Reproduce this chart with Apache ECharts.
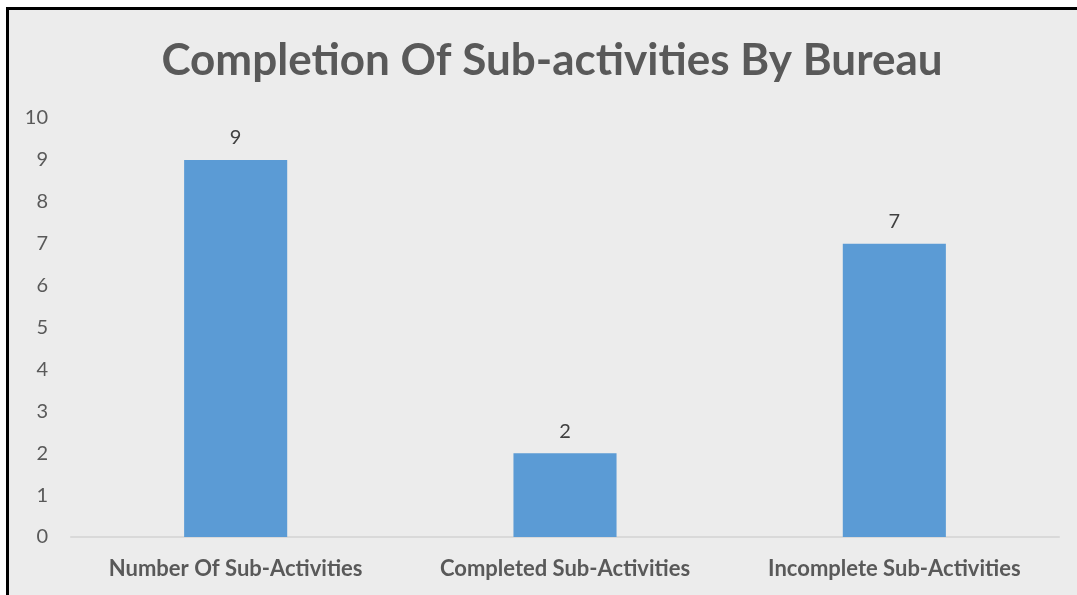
<!DOCTYPE html>
<html>
<head>
<meta charset="utf-8">
<script src="https://cdn.jsdelivr.net/npm/echarts@6/dist/echarts.min.js"></script>
<style>
  html, body { margin: 0; padding: 0; background: #fff; width: 1077px; height: 595px; overflow: hidden; }
  #frame { position: absolute; left: 6px; top: 7px; width: 1100px; height: 620px; background: #ececec;
           border-left: 3px solid #000; border-top: 3px solid #000; }
  #chart { position: absolute; left: 0; top: 0; width: 1077px; height: 595px; }
</style>
</head>
<body>
<div id="frame"></div>
<div id="chart"></div>
<script>
  const categories = ['Number Of Sub-Activities', 'Completed Sub-Activities', 'Incomplete Sub-Activities'];
  const counts = [9, 2, 7];
  const titleText = 'Completion Of Sub-activities By Bureau';

  const fontFamily = 'Lato, "Open Sans", sans-serif';
  const chart = echarts.init(document.getElementById('chart'), null, { renderer: 'canvas' });

  chart.setOption({
    animation: false,
    backgroundColor: 'transparent',
    title: {
      text: titleText,
      left: 547,
      top: 34,
      textAlign: 'center',
      textStyle: { fontFamily, fontSize: 44, fontWeight: 'bold', color: '#595959' }
    },
    grid: { left: 71, right: 18, top: 118, bottom: 58, containLabel: false },
    xAxis: {
      type: 'category',
      data: categories,
      axisLine: { show: true, lineStyle: { color: '#d9d9d9', width: 2 } },
      axisTick: { show: false },
      axisLabel: {
        interval: 0, hideOverlap: false,
        fontFamily, fontSize: 22, fontWeight: 'bold', color: '#595959', margin: 21
      }
    },
    yAxis: {
      type: 'value',
      min: 0,
      max: 10,
      interval: 1,
      axisLine: { show: false },
      axisTick: { show: false },
      splitLine: { show: false },
      axisLabel: { fontFamily, fontSize: 20, color: '#595959', margin: 23 }
    },
    series: [{
      type: 'bar',
      data: counts,
      barWidth: '31.3%',
      itemStyle: { color: '#5b9bd5' },
      label: { show: true, position: 'top', distance: 12, fontFamily, fontSize: 20, color: '#404040' }
    }]
  });
</script>
</body>
</html>
